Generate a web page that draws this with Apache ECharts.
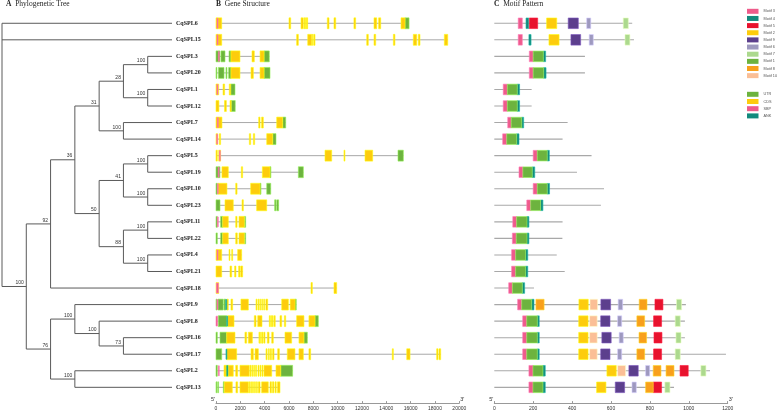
<!DOCTYPE html>
<html>
<head>
<meta charset="utf-8">
<script src="https://cdn.jsdelivr.net/npm/echarts@6/dist/echarts.min.js"></script>
<style>
  html, body { margin: 0; padding: 0; background: #fff; }
  #main { width: 777px; height: 415px; }
</style>
</head>
<body>
<div id="main"></div>
<script>
// row order (top to bottom), as in the tree
var genes = ['CqSPL6', 'CqSPL15', 'CqSPL3', 'CqSPL20', 'CqSPL1', 'CqSPL12', 'CqSPL7', 'CqSPL14',
  'CqSPL5', 'CqSPL19', 'CqSPL10', 'CqSPL23', 'CqSPL11', 'CqSPL22', 'CqSPL4', 'CqSPL21',
  'CqSPL18', 'CqSPL9', 'CqSPL8', 'CqSPL16', 'CqSPL17', 'CqSPL2', 'CqSPL13'];

// tree topology with bootstrap values
var tree = {c: [
  'CqSPL6', 'CqSPL15',
  {b: 100, c: [
    {b: 92, c: [
      {b: 36, c: [
        {b: 31, c: [
          {b: 28, c: [{b: 100, c: ['CqSPL3', 'CqSPL20']}, {b: 100, c: ['CqSPL1', 'CqSPL12']}]},
          {b: 100, c: ['CqSPL7', 'CqSPL14']}
        ]},
        {b: 50, c: [
          {b: 41, c: [{b: 100, c: ['CqSPL5', 'CqSPL19']}, {b: 100, c: ['CqSPL10', 'CqSPL23']}]},
          {b: 88, c: [{b: 100, c: ['CqSPL11', 'CqSPL22']}, {b: 100, c: ['CqSPL4', 'CqSPL21']}]}
        ]}
      ]},
      'CqSPL18'
    ]},
    {b: 76, c: [
      {b: 100, c: ['CqSPL9', {b: 100, c: ['CqSPL8', {b: 73, c: ['CqSPL16', 'CqSPL17']}]}]},
      {b: 100, c: ['CqSPL2', 'CqSPL13']}
    ]}
  ]}
]};

// gene length (bp) and features [start, end, type]
var geneLength = [15870, 19050, 4380, 4440, 1560, 1580, 5730, 4930, 15400, 7180, 4500, 5150,
  2440, 2440, 2110, 2190, 9920, 6600, 8410, 7510, 18470, 6300, 5260];

var geneParts = [
  [[0,470,'CDS'],[90,150,'SBP'],[6000,6140,'CDS'],[6990,7180,'CDS'],[7250,7290,'CDS'],[7360,7400,'CDS'],[7460,7500,'CDS'],[9150,9290,'CDS'],[9700,9840,'CDS'],[11340,11480,'CDS'],[12990,13210,'CDS'],[13370,13540,'CDS'],[15210,15540,'CDS'],[15540,15870,'UTR']],
  [[0,470,'CDS'],[90,150,'SBP'],[6630,6770,'CDS'],[7540,7870,'CDS'],[7920,7980,'CDS'],[8050,8140,'CDS'],[12390,12520,'CDS'],[12990,13130,'CDS'],[14580,14710,'CDS'],[16220,16500,'CDS'],[16630,16770,'CDS'],[18770,19050,'CDS']],
  [[0,330,'UTR'],[200,250,'SBP'],[410,740,'UTR'],[1070,1230,'UTR'],[1230,1970,'CDS'],[2960,3150,'CDS'],[3620,3950,'CDS'],[3950,4380,'UTR']],
  [[0,60,'UTR'],[200,660,'UTR'],[820,900,'UTR'],[1040,1230,'UTR'],[1230,1970,'CDS'],[2880,3070,'CDS'],[3620,3950,'CDS'],[3950,4440,'UTR']],
  [[0,220,'CDS'],[80,120,'SBP'],[580,710,'CDS'],[1090,1210,'CDS'],[1210,1560,'UTR']],
  [[0,240,'CDS'],[700,850,'CDS'],[1150,1250,'CDS'],[1250,1580,'UTR']],
  [[0,490,'CDS'],[110,160,'SBP'],[3510,3620,'CDS'],[3750,3890,'CDS'],[4990,5480,'CDS'],[5480,5730,'UTR']],
  [[0,130,'CDS'],[60,100,'SBP'],[270,380,'CDS'],[2740,2850,'CDS'],[3070,3180,'CDS'],[4170,4660,'CDS'],[4660,4930,'UTR']],
  [[0,110,'CDS'],[220,380,'CDS'],[280,320,'SBP'],[8960,9510,'CDS'],[10520,10600,'CDS'],[12250,12880,'CDS'],[14960,15400,'UTR']],
  [[0,330,'UTR'],[180,220,'SBP'],[490,1010,'CDS'],[2080,2190,'CDS'],[3810,4440,'CDS'],[4440,4500,'UTR'],[6770,7180,'UTR']],
  [[0,110,'UTR'],[110,160,'SBP'],[160,900,'CDS'],[1620,1730,'CDS'],[2850,3620,'CDS'],[3620,3700,'UTR'],[4170,4500,'UTR']],
  [[0,330,'UTR'],[740,1420,'CDS'],[2140,2250,'CDS'],[3340,4170,'CDS'],[4820,4930,'UTR'],[4990,5150,'UTR']],
  [[0,110,'UTR'],[110,190,'SBP'],[380,550,'UTR'],[550,1010,'CDS'],[1620,1730,'CDS'],[1890,2330,'CDS'],[2330,2440,'UTR']],
  [[0,110,'UTR'],[380,550,'UTR'],[550,1010,'CDS'],[1620,1750,'CDS'],[1890,2330,'CDS'],[2330,2440,'UTR']],
  [[0,470,'CDS'],[90,150,'SBP'],[1070,1150,'CDS'],[1290,1370,'CDS'],[1780,2110,'CDS']],
  [[0,470,'CDS'],[1150,1290,'CDS'],[1530,1640,'CDS'],[1860,1970,'CDS'],[2030,2190,'CDS']],
  [[0,220,'CDS'],[40,190,'SBP'],[7810,7920,'CDS'],[9700,9920,'CDS']],
  [[0,80,'UTR'],[80,160,'SBP'],[160,600,'UTR'],[660,800,'UTR'],[800,880,'ANK'],[880,1010,'CDS'],[1230,1370,'CDS'],[2050,2660,'CDS'],[3290,3370,'CDS'],[3450,3520,'CDS'],[3600,3660,'CDS'],[3760,3830,'CDS'],[3920,4000,'CDS'],[4100,4250,'CDS'],[5400,5950,'CDS'],[6100,6500,'CDS'],[6500,6600,'UTR']],
  [[0,130,'SBP'],[190,880,'UTR'],[880,930,'ANK'],[960,1480,'CDS'],[3150,3290,'CDS'],[3430,3780,'CDS'],[4380,4450,'CDS'],[4500,4560,'CDS'],[4620,4700,'CDS'],[4770,4870,'CDS'],[5260,5400,'CDS'],[5620,5730,'CDS'],[6630,7230,'CDS'],[7640,8140,'CDS'],[8140,8410,'UTR']],
  [[0,110,'UTR'],[330,880,'UTR'],[880,1560,'CDS'],[2380,2520,'CDS'],[2660,2990,'CDS'],[3530,3600,'CDS'],[3660,3720,'CDS'],[3790,3860,'CDS'],[3930,4030,'CDS'],[4220,4360,'CDS'],[4580,4710,'CDS'],[5670,6220,'CDS'],[6820,7230,'CDS'],[7230,7510,'UTR']],
  [[0,470,'UTR'],[820,880,'ANK'],[880,1700,'CDS'],[2880,3070,'CDS'],[3210,3480,'CDS'],[4110,4200,'CDS'],[4300,4380,'CDS'],[4460,4560,'CDS'],[4650,4770,'CDS'],[5070,5210,'CDS'],[5860,6490,'CDS'],[6820,7180,'CDS'],[7640,7780,'CDS'],[14490,14580,'CDS'],[15680,15950,'CDS'],[18140,18250,'CDS'],[18330,18470,'CDS']],
  [[0,110,'UTR'],[190,270,'SBP'],[660,820,'CDS'],[820,1010,'UTR'],[900,960,'ANK'],[1010,1420,'CDS'],[1620,1780,'CDS'],[1970,2740,'CDS'],[2800,2880,'CDS'],[2950,3020,'CDS'],[3100,3170,'CDS'],[3250,3340,'CDS'],[3450,3540,'CDS'],[3620,3700,'CDS'],[3780,3860,'CDS'],[3940,4580,'CDS'],[4930,5320,'CDS'],[5320,6300,'UTR']],
  [[0,60,'UTR'],[140,200,'UTR'],[600,680,'UTR'],[680,1340,'CDS'],[1640,1780,'CDS'],[1970,2660,'CDS'],[2700,2780,'CDS'],[2850,2930,'CDS'],[3000,3080,'CDS'],[3160,3240,'CDS'],[3320,3400,'CDS'],[3480,3620,'CDS'],[3750,4300,'CDS'],[4440,4560,'CDS'],[4640,4760,'CDS'],[4850,4950,'CDS'],[5050,5260,'CDS']]
];

// protein length (aa) and motifs [motif no, start, end]
var protLength = [709, 718, 466, 466, 192, 192, 377, 351, 500, 425, 564, 548,
  351, 350, 321, 362, 204, 985, 980, 980, 1191, 1109, 924];

var motifs = [
  [[3,123,144],[4,163,177],[5,180,223],[2,269,321],[9,380,432],[6,475,496],[7,663,689]],
  [[3,123,144],[4,178,189],[2,281,333],[9,394,444],[6,488,509],[7,672,697]],
  [[3,180,200],[1,200,252],[4,252,264]],
  [[3,180,200],[1,200,254],[4,254,266]],
  [[3,46,67],[1,67,118],[4,118,130]],
  [[3,46,67],[1,67,118],[4,118,130]],
  [[3,69,87],[1,87,141],[4,141,151]],
  [[3,43,64],[1,64,115],[4,115,127]],
  [[3,200,221],[1,221,272],[4,272,283]],
  [[3,127,147],[1,147,195],[4,195,208]],
  [[3,200,221],[1,221,272],[4,272,284]],
  [[3,167,187],[1,187,238],[4,238,250]],
  [[3,95,115],[1,115,168],[4,168,178]],
  [[3,93,113],[1,113,168],[4,168,178]],
  [[3,89,110],[1,110,161],[4,161,172]],
  [[3,89,110],[1,110,161],[4,161,172]],
  [[3,74,93],[1,93,144],[4,144,156]],
  [[3,120,141],[1,141,192],[4,192,204],[8,214,256],[2,435,483],[10,492,531],[9,548,598],[6,637,660],[8,745,785],[5,826,867],[7,937,963]],
  [[3,146,167],[1,167,221],[4,221,231],[2,434,482],[10,490,529],[9,547,595],[6,634,655],[8,733,773],[5,819,860],[7,930,956]],
  [[3,146,167],[1,167,221],[4,221,231],[2,434,482],[10,490,529],[9,553,601],[6,642,663],[8,744,783],[5,821,862],[7,934,960]],
  [[3,146,167],[1,167,221],[4,221,231],[2,434,482],[10,490,529],[9,547,595],[6,634,655],[8,733,773],[5,819,860],[7,930,956]],
  [[3,178,199],[1,199,250],[4,250,262],[2,579,627],[10,634,675],[9,692,740],[6,778,799],[8,817,857],[8,883,924],[5,955,997],[7,1062,1088]],
  [[3,178,199],[1,199,250],[4,250,262],[2,526,574],[9,622,670],[6,708,730],[8,778,817],[5,817,860],[7,877,903]]
];

var motifOrder = [3, 4, 5, 2, 9, 6, 7, 1, 8, 10];
var motifColors = {1: '#6db33f', 2: '#fdcc0d', 3: '#ee5b8b', 4: '#138a7d', 5: '#e8132e',
  6: '#9e99bf', 7: '#acd98e', 8: '#f8a01c', 9: '#5c3f8d', 10: '#fbbf96'};
var partTypes = ['UTR', 'CDS', 'SBP', 'ANK'];
var partColors = {UTR: '#6db33f', CDS: '#fdcc0d', SBP: '#ee5b8b', ANK: '#138a7d'};

var geneTicks = 2000;
var motifTicks = 200;

// ---- tree layout: leaves at fixed depth, nodes centred on their children
var leafDepth = 7;
var treeSegs = [];
var boots = [];
function place(node, depth) {
  if (typeof node === 'string') {
    return {y: genes.indexOf(node), d: leafDepth};
  }
  var kids = node.c.map(function (k) { return place(k, depth + 1); });
  var ys = kids.map(function (k) { return k.y; });
  var lo = Math.min.apply(null, ys), hi = Math.max.apply(null, ys);
  treeSegs.push([depth, lo, depth, hi]);
  kids.forEach(function (k) { treeSegs.push([depth, k.y, k.d, k.y]); });
  var y = (lo + hi) / 2;
  if (node.b != null) boots.push([depth, y, node.b]);
  return {y: y, d: depth};
}
place(tree, 0);

var SERIF = 'Liberation Serif, Times New Roman, serif';
var SANS = 'Liberation Sans Narrow, Liberation Sans, Arial, sans-serif';

var gridTop = 15, gridH = 380.6;
function yAxisHidden(idx) {
  return {type: 'value', gridIndex: idx, inverse: true, min: -0.5, max: genes.length - 0.5, show: false};
}

function blockRender(ratio) {
  return function (params, api) {
    var p1 = api.coord([api.value(0), api.value(1)]);
    var p2 = api.coord([api.value(2), api.value(1)]);
    var h = api.size([0, 1])[1] * ratio;
    var c = api.visual('color');
    return {
      type: 'rect',
      shape: {x: p1[0], y: p1[1] - h / 2, width: Math.max(p2[0] - p1[0], 0.9), height: h},
      style: {fill: c, stroke: echarts.color.lift(c, -0.35), lineWidth: 0.6}
    };
  };
}
function lineRender(color, width) {
  return function (params, api) {
    var p1 = api.coord([api.value(0), api.value(1)]);
    var p2 = api.coord([api.value(2), api.value(3)]);
    return {type: 'line', shape: {x1: p1[0], y1: p1[1], x2: p2[0], y2: p2[1]},
      style: {stroke: color, lineWidth: width}};
  };
}

var series = [];

// tree branches
series.push({
  type: 'custom', xAxisIndex: 0, yAxisIndex: 0, silent: true,
  renderItem: lineRender('#5a5a5a', 1),
  encode: {x: [0, 2], y: [1, 3]},
  data: treeSegs
});
// bootstrap values
series.push({
  type: 'custom', xAxisIndex: 0, yAxisIndex: 0, silent: true,
  renderItem: function (params, api) {
    var p = api.coord([api.value(0), api.value(1)]);
    return {type: 'text', x: p[0] - 2.5, y: p[1] - 1.2,
      style: {text: String(api.value(2)), align: 'right', verticalAlign: 'bottom',
        fill: '#333', font: '5px ' + SANS}};
  },
  data: boots
});

// intron / backbone line of gene structure
series.push({
  type: 'custom', xAxisIndex: 1, yAxisIndex: 2, silent: true,
  renderItem: lineRender('#a8a8a8', 1),
  encode: {x: [0, 2], y: [1, 3]},
  data: geneLength.map(function (len, i) { return [0, i, len, i]; })
});
partTypes.forEach(function (t) {
  var data = [];
  geneParts.forEach(function (parts, i) {
    parts.forEach(function (p) { if (p[2] === t) data.push([p[0], i, p[1]]); });
  });
  series.push({
    name: t, type: 'custom', xAxisIndex: 1, yAxisIndex: 2, silent: true,
    itemStyle: {color: partColors[t]},
    renderItem: blockRender(t === 'SBP' || t === 'ANK' ? 0.6 : 0.66),
    encode: {x: [0, 2], y: 1},
    data: data
  });
});

// protein backbone + motifs
series.push({
  type: 'custom', xAxisIndex: 3, yAxisIndex: 3, silent: true,
  renderItem: lineRender('#a8a8a8', 1.1),
  encode: {x: [0, 2], y: [1, 3]},
  data: protLength.map(function (len, i) { return [0, i, len, i]; })
});
motifOrder.forEach(function (m) {
  var data = [];
  motifs.forEach(function (list, i) {
    list.forEach(function (p) { if (p[0] === m) data.push([p[1], i, p[2]]); });
  });
  series.push({
    name: 'Motif ' + m, type: 'custom', xAxisIndex: 3, yAxisIndex: 3, silent: true,
    itemStyle: {color: motifColors[m]},
    renderItem: blockRender(0.64),
    encode: {x: [0, 2], y: 1},
    data: data
  });
});

var nameStyle = function (align) {
  return {fontSize: 5.5, fontFamily: SANS, color: '#333', verticalAlign: 'bottom',
    align: align, padding: [0, 0, 1, 0]};
};
function scaleAxis(gi, max, step) {
  return {
    type: 'value', gridIndex: gi, position: 'bottom', min: 0, max: max, interval: step, offset: 7.5,
    name: '3\'', nameLocation: 'end', nameGap: 1, nameTextStyle: nameStyle('left'),
    axisLine: {show: true, onZero: false, lineStyle: {color: '#999', width: 1}},
    axisTick: {show: true, inside: true, length: 2, lineStyle: {color: '#999'}},
    axisLabel: {fontSize: 5, fontFamily: SANS, color: '#333', margin: 3,
      formatter: function (v) { return String(v); }},
    splitLine: {show: false}
  };
}
function startName(gi, max) {
  return {
    type: 'value', gridIndex: gi, position: 'bottom', min: 0, max: max, offset: 7.5,
    name: '5\'', nameLocation: 'start', nameGap: 1, nameTextStyle: nameStyle('right'),
    axisLine: {show: false, onZero: false}, axisTick: {show: false}, axisLabel: {show: false},
    splitLine: {show: false}
  };
}

var legendText = {fontSize: 3.8, lineHeight: 5, fontFamily: SANS, color: '#555'};

var option = {
  backgroundColor: '#fff',
  animation: false,
  title: [
    {text: '{b|A}  Phylogenetic Tree', left: 6, top: 0},
    {text: '{b|B}  Gene Structure', left: 216, top: 0},
    {text: '{b|C}  Motif Pattern', left: 494, top: 0}
  ].map(function (t) {
    t.padding = 0;
    t.textStyle = {fontFamily: SERIF, fontSize: 7.5, fontWeight: 'normal', color: '#222',
      rich: {b: {fontFamily: SERIF, fontSize: 7.5, fontWeight: 'bold', color: '#222'}}};
    return t;
  }),
  legend: [
    {
      data: motifOrder.map(function (m) { return 'Motif ' + m; }),
      orient: 'vertical', left: 747, top: 8.8, itemWidth: 11.5, itemHeight: 5, itemGap: 2.15,
      icon: 'rect', selectedMode: false, padding: 0, textStyle: legendText
    },
    {
      data: partTypes,
      orient: 'vertical', left: 747, top: 91.8, itemWidth: 11.5, itemHeight: 5, itemGap: 2.2,
      icon: 'rect', selectedMode: false, padding: 0, textStyle: legendText
    }
  ],
  grid: [
    {left: 2, width: 170, top: gridTop, height: gridH},
    {left: 216, width: 243.3, top: gridTop, height: gridH},
    {left: 494.3, width: 233.4, top: gridTop, height: gridH}
  ],
  // x axes: 0 tree, 1 gene, 2 gene (5' name), 3 motif, 4 motif (5' name)
  xAxis: [
    {type: 'value', gridIndex: 0, min: 0, max: leafDepth, show: false},
    scaleAxis(1, 20000, geneTicks),
    startName(1, 20000),
    scaleAxis(2, 1200, motifTicks),
    startName(2, 1200)
  ],
  yAxis: [
    yAxisHidden(0),
    {type: 'category', gridIndex: 0, data: genes, inverse: true, position: 'right',
      axisLine: {show: false}, axisTick: {show: false}, splitLine: {show: false},
      axisLabel: {margin: 4, fontSize: 6, fontWeight: 'bold', fontFamily: SERIF, color: '#222'}},
    yAxisHidden(1),
    yAxisHidden(2)
  ],
  series: series
};

var chart = echarts.init(document.getElementById('main'));
chart.setOption(option);
</script>
</body>
</html>
